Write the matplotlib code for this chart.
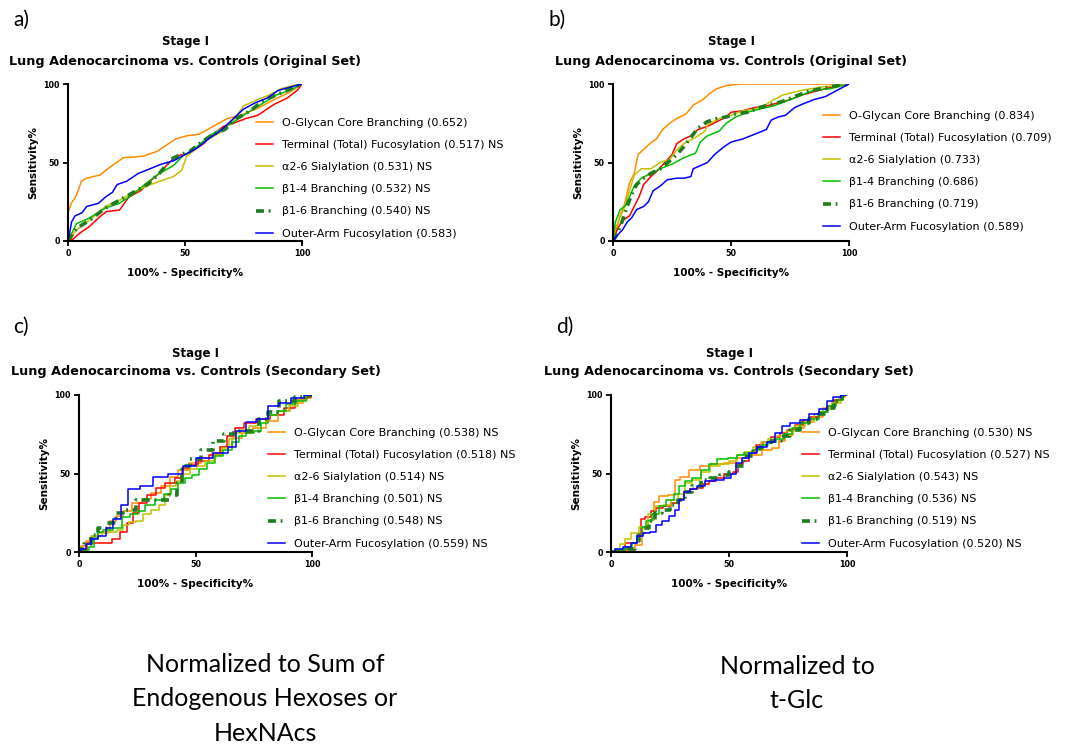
import matplotlib
import numpy as np
import matplotlib.pyplot as plt

matplotlib.use('Agg')

W, H = 1065, 746

# ---- panel a: Original Set, normalized to sum of hexoses / HexNAcs
a_og_x = [0, 0, 1.4, 3.6, 5.7, 7.9, 13.6, 17.9, 23.6, 32, 37.9, 42, 46, 50.7, 56, 62, 68, 73.6, 81, 88, 95, 100]
a_og_y = [0, 18, 24, 29, 38, 40, 42, 47, 53, 54, 57, 61, 65, 67, 68, 73, 78, 80, 84.5, 90, 95, 100]
a_term_x = [0, 2, 5, 9, 13.6, 16.4, 22, 26, 31, 35, 39, 42, 46, 52, 58, 62, 66.4, 70.7, 76, 81, 88, 93.6, 98, 100]
a_term_y = [0, 1, 5, 9, 15.5, 18.7, 19.7, 28, 32, 38, 43, 48, 54, 56, 62, 68, 73, 75, 78, 80, 87, 91, 96, 100]
a_sial_x = [0, 3.6, 9, 16, 22, 28, 33.6, 39, 45, 48.6, 50.7, 55, 59, 65, 70.7, 75, 81, 86, 91, 96, 100]
a_sial_y = [0, 7, 13, 22, 26, 31, 35, 38, 41, 45, 54, 59, 64, 69, 77, 86, 90, 93, 97, 99, 100]
a_b14_x = [0, 3.6, 9, 16, 22, 28, 33.6, 39, 45, 49, 55, 61, 66.4, 72, 78, 83.6, 89, 95, 100]
a_b14_y = [0, 11, 14.5, 21, 24, 30, 37, 43, 48, 54, 60, 67.5, 72, 77, 83, 88, 93, 96, 100]
a_b16_x = [0, 3.6, 9, 16, 22, 28, 34, 39, 44, 48, 52, 57, 62, 67, 72, 78, 83, 89, 95, 100]
a_b16_y = [0, 8, 13, 21, 26, 31, 36, 43, 52, 55, 57, 63, 68, 71, 78, 83, 89, 93, 97, 100]
a_outer_x = [0, 0.7, 1.5, 3, 6, 8, 13, 16, 19, 21, 25, 30, 35, 40, 45, 50, 55, 60, 65, 70, 75, 80, 85, 90, 95, 100]
a_outer_y = [0, 5, 12, 16, 18, 22, 24, 28, 31, 36, 38, 43, 46, 49, 51, 55, 59, 65, 70, 77, 84, 88, 91, 96, 98, 100]
a_labels = ['O-Glycan Core Branching (0.652)', 'Terminal (Total) Fucosylation (0.517) NS',
            'α2-6 Sialylation (0.531) NS', 'β1-4 Branching (0.532) NS',
            'β1-6 Branching (0.540) NS', 'Outer-Arm Fucosylation (0.583)']

# ---- panel b: Original Set, normalized to t-Glc
b_og_x = [0, 1.4, 2.8, 5, 7, 9, 10.6, 12.7, 15.6, 18.4, 21, 24, 27, 31, 34, 38, 41, 44, 48, 54, 100]
b_og_y = [0, 7, 15.5, 24, 37, 43, 55, 58, 62, 65, 71, 75, 78, 81, 86.6, 90, 94, 97, 99, 100, 100]
b_term_x = [0, 2, 4, 7, 9, 11, 13, 16, 19, 22, 25, 27, 30, 33, 36, 40, 44, 48, 50, 55, 60, 65, 70, 75, 80, 85, 90, 95, 100]
b_term_y = [0, 8, 13, 16, 22, 28, 36, 41, 45, 50, 55, 62, 65, 67, 71, 73, 76, 79, 82, 83, 85, 86, 88, 90, 93, 95, 97, 99, 100]
b_sial_x = [0, 1, 3, 5, 7, 9, 12, 16, 20, 24, 27, 30, 35, 39, 40, 45, 50, 55, 60, 65, 68, 72, 80, 88, 95, 100]
b_sial_y = [0, 8, 15, 22, 32, 42, 46, 46, 50, 52, 58, 62, 66, 70, 74, 78, 80, 83, 84, 87, 90, 93, 96, 98, 99, 100]
b_b14_x = [0, 1, 3, 5, 7, 9, 12, 16, 20, 25, 30, 35, 37, 40, 45, 48, 52, 57, 62, 68, 75, 80, 85, 92, 100]
b_b14_y = [0, 12, 20, 22, 28, 35, 40, 43, 46, 49, 53, 56, 63, 67, 70, 75, 79, 82, 84, 86, 90, 93, 96, 97, 100]
b_b16_x = [0, 2, 4, 6, 8, 10, 13, 16, 20, 24, 27, 30, 33, 36, 40, 44, 48, 52, 57, 62, 67, 72, 77, 82, 88, 95, 100]
b_b16_y = [0, 5, 13, 22, 30, 36, 40, 43, 46, 51, 55, 60, 66, 72, 76, 78, 79, 81, 82, 85, 87, 89, 92, 95, 97, 99, 100]
b_outer_x = [0, 2, 4, 6, 8, 10, 13, 15, 17, 20, 23, 27, 30, 33, 34, 37, 40, 43, 47, 50, 55, 60, 65, 67, 70, 73, 77, 80, 85, 90, 95, 100]
b_outer_y = [0, 4, 7, 12, 15, 20, 22, 25, 32, 35, 39, 40, 40, 41, 46, 48, 50, 55, 60, 63, 65, 68, 71, 77, 79, 80, 85, 87, 90, 92, 96, 100]
b_labels = ['O-Glycan Core Branching (0.834)', 'Terminal (Total) Fucosylation (0.709)',
            'α2-6 Sialylation (0.733)', 'β1-4 Branching (0.686)',
            'β1-6 Branching (0.719)', 'Outer-Arm Fucosylation (0.589)']

# ---- panel c: Secondary Set, normalized to sum of hexoses / HexNAcs
c_og_x = [0, 1.9, 4, 7.6, 12, 14.7, 17, 21, 24.7, 29, 33, 37.6, 40.5, 44.8, 50, 55, 59, 63, 68, 72, 77.7, 83, 87.7, 93.4, 99, 100]
c_og_y = [0, 3.6, 7, 10, 13, 19.5, 23, 26, 31, 34, 37.6, 42, 48, 52, 57, 60, 63, 67, 72.6, 76, 79, 83.6, 89.6, 95, 98, 100]
c_term_x = [0, 2, 4.7, 12, 16, 19, 22, 24.7, 27, 31, 35, 39, 43, 45.5, 49, 53, 59, 62, 65, 69, 73, 79, 85, 90.6, 95, 99, 100]
c_term_y = [0, 1, 5.7, 5.7, 8, 13, 18.5, 25, 31, 36.5, 41, 44, 47, 53.5, 55.6, 57.7, 62, 67, 73.7, 79, 82, 85, 87.5, 91.7, 97, 98.5, 100]
c_sial_x = [0, 2, 4, 6, 10, 15, 18, 20, 23, 26, 29, 33, 36, 38, 40, 43, 46, 49, 52, 56, 60, 63, 66, 68, 71, 75, 79, 83, 88, 92, 96, 100]
c_sial_y = [0, 2, 5, 10, 12, 13, 14, 17, 19, 20, 24, 27, 30, 36, 42, 45, 50, 53, 55, 58, 62, 66, 72, 76, 78, 80, 85, 87, 90, 93, 97, 100]
c_b14_x = [0, 3, 6, 7, 9, 12, 17, 20, 24, 27, 30, 35, 38, 41, 44, 47, 50, 53, 57, 60, 64, 67, 70, 73, 77, 79, 83, 87, 91, 95, 100]
c_b14_y = [0, 1, 3, 9, 13, 14, 15, 22, 24, 26, 30, 33, 37, 40, 44, 47, 49, 53, 57, 61, 65, 70, 74, 76, 77, 82, 87, 90, 94, 96, 100]
c_b16_x = [0, 1, 3, 6.9, 9, 14.7, 17, 21, 27.5, 36, 41, 43, 45, 50, 55, 59.8, 65, 67.7, 75.5, 79, 83, 89, 96, 100]
c_b16_y = [0, 2, 5, 11, 15, 18.5, 25, 27, 33, 33, 36, 44, 55, 59, 65, 70.5, 75, 77, 77, 85, 89, 96, 99, 100]
c_outer_x = [0, 2, 4, 6, 10, 13, 16, 19.7, 22.6, 29.8, 34, 42, 47.6, 53, 62, 66, 69, 74, 79, 83, 89, 93.4, 100]
c_outer_y = [0, 2, 5, 8, 10, 15, 21, 30, 40, 42, 48, 50, 54.6, 60, 63, 67, 77, 83, 85, 92.7, 95, 98, 100]
c_labels = ['O-Glycan Core Branching (0.538) NS', 'Terminal (Total) Fucosylation (0.518) NS',
            'α2-6 Sialylation (0.514) NS', 'β1-4 Branching (0.501) NS',
            'β1-6 Branching (0.548) NS', 'Outer-Arm Fucosylation (0.559) NS']

# ---- panel d: Secondary Set, normalized to t-Glc
d_og_x = [0, 4, 9, 11.7, 14.5, 17, 19.5, 21.6, 26.5, 28, 30.8, 35.7, 40, 45, 50.6, 55.5, 61, 66.8, 69.6, 72.5, 74.6, 79.5, 83.8, 88, 92, 95, 98, 100]
d_og_y = [0, 0.5, 1, 4.7, 15, 20.6, 32, 35.5, 36.5, 46, 48, 52.4, 54.6, 56, 56.7, 60, 62, 65, 66, 70.5, 74.7, 79, 83, 86, 91.7, 96, 99, 100]
d_term_x = [0, 5, 7, 10, 12, 13, 16, 18, 20, 24, 27, 30, 32, 35, 38, 40, 43, 46, 50, 53, 55, 57, 60, 63, 66, 70, 73, 76, 80, 83, 86, 90, 93, 96, 100]
d_term_y = [0, 0.5, 6, 6, 11, 21, 22, 26, 28, 29, 31, 34, 38, 40, 41, 43, 45, 47, 50, 51, 56, 58, 63, 68, 70, 73, 76, 78, 81, 84, 86, 89, 93, 97, 100]
d_sial_x = [0, 3, 5, 7, 10, 14, 17, 20, 24, 27, 30, 33, 36, 40, 44, 48, 52, 55, 58, 62, 65, 68, 72, 76, 80, 84, 88, 92, 95, 100]
d_sial_y = [0, 2, 5, 8, 12, 16, 24, 29, 30, 33, 37, 44, 46, 51, 55, 56, 58, 62, 64, 67, 70, 72, 74, 77, 80, 84, 88, 91, 95, 100]
d_b14_x = [0, 4, 8, 10, 12, 14, 16, 19, 22, 25, 28, 30, 33, 36, 40, 43, 47, 52, 55, 58, 62, 65, 68, 72, 75, 78, 82, 86, 90, 94, 97, 100]
d_b14_y = [0, 1, 3, 6, 10, 16, 20, 24, 29, 33, 37, 42, 45, 47, 52, 56, 59, 60, 62, 63, 65, 68, 70, 72, 75, 79, 82, 85, 89, 93, 97, 100]
d_b16_x = [0, 5, 9, 11, 13, 15, 17, 20, 23, 27, 30, 33, 36, 40, 44, 48, 52, 55, 58, 62, 66, 70, 74, 78, 82, 86, 90, 93, 96, 100]
d_b16_y = [0, 1, 2, 7, 11, 15, 20, 25, 27, 30, 33, 38, 42, 46, 47, 49, 51, 55, 61, 66, 68, 71, 74, 78, 82, 85, 88, 92, 96, 100]
d_outer_x = [0, 3, 7, 10, 12, 15, 18, 20, 23, 26, 28, 30, 32, 35, 38, 42, 46, 50, 52, 54, 57, 60, 64, 68, 71, 74, 78, 82, 86, 90, 93, 95, 100]
d_outer_y = [0, 2, 3, 6, 10, 12, 13, 17, 20, 23, 27, 33, 38, 40, 42, 45, 46, 47, 50, 57, 60, 63, 67, 70, 76, 80, 82, 84, 88, 91, 96, 99, 100]
d_labels = ['O-Glycan Core Branching (0.530) NS', 'Terminal (Total) Fucosylation (0.527) NS',
            'α2-6 Sialylation (0.543) NS', 'β1-4 Branching (0.536) NS',
            'β1-6 Branching (0.519) NS', 'Outer-Arm Fucosylation (0.520) NS']

titles = ['Lung Adenocarcinoma vs. Controls (Original Set)', 'Lung Adenocarcinoma vs. Controls (Original Set)',
          'Lung Adenocarcinoma vs. Controls (Secondary Set)', 'Lung Adenocarcinoma vs. Controls (Secondary Set)']
ticks = [0, 50, 100]

colors = ['#ff8c00', '#ff0000', '#c4c000', '#00c000', '#1e7d1e', '#0000ff']

panels = [
    dict(name='a)', name_xy=(13, 20), box=(68, 302, 84, 241), leg=(256, 118), step=None,
         curves=[(a_og_x, a_og_y), (a_term_x, a_term_y), (a_sial_x, a_sial_y),
                 (a_b14_x, a_b14_y), (a_b16_x, a_b16_y), (a_outer_x, a_outer_y)], labels=a_labels),
    dict(name='b)', name_xy=(548, 20), box=(613, 849, 84, 241), leg=(823, 111), step=None,
         curves=[(b_og_x, b_og_y), (b_term_x, b_term_y), (b_sial_x, b_sial_y),
                 (b_b14_x, b_b14_y), (b_b16_x, b_b16_y), (b_outer_x, b_outer_y)], labels=b_labels),
    dict(name='c)', name_xy=(13, 327), box=(79, 312, 395, 552), leg=(268, 428), step='steps-mid',
         curves=[(c_og_x, c_og_y), (c_term_x, c_term_y), (c_sial_x, c_sial_y),
                 (c_b14_x, c_b14_y), (c_b16_x, c_b16_y), (c_outer_x, c_outer_y)], labels=c_labels),
    dict(name='d)', name_xy=(556, 327), box=(611, 847, 395, 552), leg=(802, 428), step='steps-mid',
         curves=[(d_og_x, d_og_y), (d_term_x, d_term_y), (d_sial_x, d_sial_y),
                 (d_b14_x, d_b14_y), (d_b16_x, d_b16_y), (d_outer_x, d_outer_y)], labels=d_labels),
]

fig = plt.figure(figsize=(W / 100, H / 100), dpi=100)

for p, title in zip(panels, titles):
    l, r, t, b = p['box']
    ax = fig.add_axes([l / W, 1 - b / H, (r - l) / W, (b - t) / H])
    handles = []
    for k, ((xs, ys), lab) in enumerate(zip(p['curves'], p['labels'])):
        kw = dict(color=colors[k], lw=1.1, label=lab)
        if k == 4:
            kw.update(lw=2.6, dashes=(2.2, 1.3, 0.5, 1.3))
        if p['step']:
            kw['drawstyle'] = p['step']
        line, = ax.plot(xs, ys, **kw)
        handles.append(line)
    ax.set_xlim(0, 100)
    ax.set_ylim(0, 100)
    for s in ['top', 'right']:
        ax.spines[s].set_visible(False)
    for s in ['left', 'bottom']:
        ax.spines[s].set_linewidth(1.5)
    ax.set_xticks(ticks, labels=[str(v) for v in ticks], fontweight='bold')
    ax.set_yticks(ticks, labels=[str(v) for v in ticks], fontweight='bold')
    ax.tick_params(direction='out', length=3.5, width=1.3, labelsize=5.8, pad=2.5)
    ax.set_xlabel('100% - Specificity%', fontsize=7.5, fontweight='bold')
    ax.set_ylabel('Sensitivity%', fontsize=7.5, fontweight='bold')
    ax.xaxis.set_label_coords(0.5, -27 / (b - t))
    ax.yaxis.set_label_coords(-30 / (r - l), 0.5)
    cx = (l + r) / 2
    fig.text(cx / W, 1 - (t - 42) / H, 'Stage I', ha='center', va='center', fontsize=8.5, fontweight='bold')
    fig.text(cx / W, 1 - (t - 23) / H, title, ha='center', va='center', fontsize=9.2, fontweight='bold')
    lx, ly = p['leg']
    fig.legend(handles=handles, loc='upper left', bbox_to_anchor=(lx / W, 1 - ly / H),
               frameon=False, fontsize=8, borderpad=0, borderaxespad=0,
               handlelength=1.55, handletextpad=0.8, labelspacing=1.09)
    fig.text(p['name_xy'][0] / W, 1 - p['name_xy'][1] / H, p['name'], ha='left', va='center',
             fontsize=15, family='Lato')

fig.text(265 / W, 1 - 699 / H, 'Normalized to Sum of\nEndogenous Hexoses or\nHexNAcs',
         ha='center', va='center', fontsize=18, family='Lato', linespacing=1.62)
fig.text(797 / W, 1 - 683.5 / H, 'Normalized to\nt-Glc',
         ha='center', va='center', fontsize=18, family='Lato', linespacing=1.62)

fig.savefig('out.png', dpi=100)
